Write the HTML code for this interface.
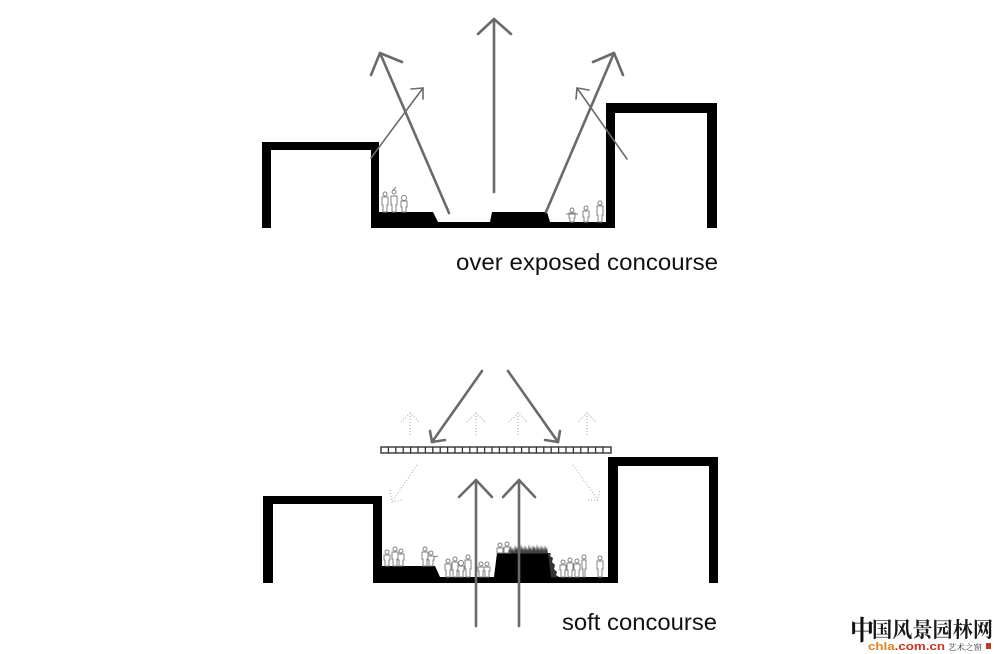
<!DOCTYPE html>
<html><head><meta charset="utf-8">
<style>
html,body{margin:0;padding:0;background:#fff;}
svg{display:block;}
</style></head>
<body>
<svg width="1000" height="654" viewBox="0 0 1000 654" xmlns="http://www.w3.org/2000/svg">
<rect width="1000" height="654" fill="#fff"/>

<!-- ===== TOP DIAGRAM ===== -->
<path d="M262,228 V142 H379 V212 H433 L438,222 H490 L492,212 H547 L550,222 H606 V103 H717 V228 H707 V113 H615 V228 H371 V150 H271 V228 Z" fill="#000"/>

<!-- people top -->
<g fill="none" stroke="#808080" stroke-width="1">
  <circle cx="385" cy="194" r="2"/><path d="M382,197 h6 v8 h-1 v7 h-4 v-7 h-1 z"/>
  <circle cx="394" cy="192" r="2"/><path d="M391,196 h6 v9 h-1 v7 h-4 v-7 h-1 z M393,190 l3,-3"/>
  <circle cx="404" cy="198" r="2.5"/><path d="M401,201 h6 v6 h-1 v5 h-4 v-5 h-1 z"/>
  <circle cx="572" cy="210" r="2"/><path d="M569,213 h6 v5 h-1 v4 h-4 v-4 h-1 z M566,214 h12"/>
  <circle cx="586" cy="208" r="2"/><path d="M583,211 h6 v6 h-1 v5 h-4 v-5 h-1 z"/>
  <circle cx="600" cy="203" r="2"/><path d="M597,206 h6 v9 h-1 v7 h-4 v-7 h-1 z"/>
</g>

<!-- arrows top -->
<g stroke="#6a6a6a" fill="none" stroke-linecap="round" stroke-linejoin="round">
  <g stroke-width="2.6">
    <line x1="494" y1="192" x2="494" y2="19"/>
    <polyline points="478,34 494,19 511,34"/>
    <line x1="449" y1="213" x2="380" y2="53"/>
    <polyline points="371,75 380,53 402,62"/>
    <line x1="546" y1="212" x2="614" y2="53"/>
    <polyline points="593,62 614,53 623,75"/>
  </g>
  <g stroke-width="1.6">
    <line x1="371" y1="158" x2="423" y2="88"/>
    <polyline points="411,89 423,88 423,99"/>
    <line x1="627" y1="159" x2="577" y2="88"/>
    <polyline points="576,99 577,88 589,90"/>
  </g>
</g>

<text x="456" y="270" font-family="Liberation Sans, sans-serif" font-size="23" fill="#111" textLength="262" lengthAdjust="spacingAndGlyphs">over exposed concourse</text>

<!-- ===== BOTTOM DIAGRAM ===== -->
<path d="M263,583 V496 H382 V566 H435 L440,577 H494 L497,553 H548 L552,577 H608 V457 H718 V583 H709 V466 H618 V583 H373 V504 H273 V583 Z" fill="#000"/>

<!-- grass on mound -->
<path d="M508,553.5 L509,548 L510,552 L511,546 L512,551 L513,547 L514,552 L515,545 L516,550 L517,546 L518,551 L519,547 L520,552 L521,544 L522,550 L523,546 L524,551 L525,545 L526,550 L527,547 L528,551 L529,544 L530,550 L531,546 L532,551 L533,545 L534,549 L535,546 L536,551 L537,544 L538,550 L539,546 L540,551 L541,545 L542,550 L543,546 L544,551 L545,545 L546,550 L547,547 L548,553.5 Z" fill="#444"/>
<path d="M548,553 L551,553 L550,556 L553,558 L552,562 L555,565 L554,569 L557,572 L556,575 L560,577.5 L551,577.5 Z" fill="#333"/>

<!-- people bottom -->
<g fill="none" stroke="#808080" stroke-width="1">
  <circle cx="387" cy="552" r="2"/><path d="M384,555 h6 v5 h-1 v6 h-4 v-6 h-1 z"/>
  <circle cx="395" cy="549" r="2"/><path d="M392,552 h6 v7 h-1 v7 h-4 v-7 h-1 z"/>
  <circle cx="401" cy="551" r="2"/><path d="M398,554 h6 v6 h-1 v6 h-4 v-6 h-1 z"/>
  <circle cx="425" cy="549" r="2"/><path d="M422,552 h6 v7 h-1 v7 h-4 v-7 h-1 z"/>
  <circle cx="431" cy="553" r="2"/><path d="M428,556 h6 v4 h-1 v6 h-4 v-6 h-1 z M434,557 l4,-1"/>
  <circle cx="448" cy="561" r="2"/><path d="M445,564 h6 v6 h-1 v7 h-4 v-7 h-1 z"/>
  <circle cx="455" cy="559" r="2"/><path d="M452,562 h6 v8 h-1 v7 h-4 v-7 h-1 z"/>
  <circle cx="461" cy="563" r="2.5"/><path d="M458,566 h6 v5 h-1 v6 h-4 v-6 h-1 z"/>
  <circle cx="468" cy="557" r="2"/><path d="M465,560 h6 v9 h-1 v8 h-4 v-8 h-1 z"/>
  <circle cx="481" cy="564" r="2"/><path d="M478,567 h6 v4 h-1 v6 h-4 v-6 h-1 z"/>
  <circle cx="487" cy="564" r="2"/><path d="M484,567 h6 v4 h-1 v6 h-4 v-6 h-1 z"/>
  <circle cx="500" cy="545" r="2"/><path d="M497,548 h6 v5 h-6 z"/>
  <circle cx="507" cy="544" r="2"/><path d="M504,547 h6 v6 h-6 z"/>
  <circle cx="563" cy="562" r="2"/><path d="M560,565 h6 v5 h-1 v7 h-4 v-7 h-1 z"/>
  <circle cx="570" cy="560" r="2"/><path d="M567,563 h6 v7 h-1 v7 h-4 v-7 h-1 z"/>
  <circle cx="577" cy="561" r="2"/><path d="M574,564 h6 v6 h-1 v7 h-4 v-7 h-1 z"/>
  <circle cx="584" cy="557" r="2"/><path d="M582,560 h4 v9 h-1 v8 h-2 v-8 h-1 z"/>
  <circle cx="600" cy="558" r="2"/><path d="M597,561 h6 v8 h-1 v8 h-4 v-8 h-1 z"/>
</g>

<!-- canopy -->
<rect x="381" y="447" width="230" height="6" fill="#fff" stroke="#333" stroke-width="1.4"/>
<g stroke="#333" stroke-width="1.3">
  <path d="M388.4,447 v6 M395.8,447 v6 M403.2,447 v6 M410.6,447 v6 M418,447 v6 M425.4,447 v6 M432.8,447 v6 M440.2,447 v6 M447.6,447 v6 M455,447 v6 M462.4,447 v6 M469.8,447 v6 M477.2,447 v6 M484.6,447 v6 M492,447 v6 M499.4,447 v6 M506.8,447 v6 M514.2,447 v6 M521.6,447 v6 M529,447 v6 M536.4,447 v6 M543.8,447 v6 M551.2,447 v6 M558.6,447 v6 M566,447 v6 M573.4,447 v6 M580.8,447 v6 M588.2,447 v6 M595.6,447 v6 M603,447 v6"/>
</g>

<!-- converging arrows -->
<g stroke="#6a6a6a" fill="none" stroke-width="2.6" stroke-linecap="round" stroke-linejoin="round">
  <line x1="482" y1="371" x2="432" y2="442"/>
  <polyline points="430,431 432,442 445,440"/>
  <line x1="508" y1="371" x2="558" y2="442"/>
  <polyline points="560,431 558,442 545,440"/>
  <line x1="476" y1="626" x2="476" y2="480"/>
  <polyline points="459,497 476,480 492,497"/>
  <line x1="519" y1="626" x2="519" y2="480"/>
  <polyline points="503,497 519,480 535,497"/>
</g>

<!-- dotted faint arrows -->
<g stroke="#b4b4b4" fill="none" stroke-width="1.2" stroke-dasharray="1 2">
  <line x1="410" y1="435" x2="410" y2="413"/><polyline points="401,422 410,413 419,422"/>
  <line x1="476" y1="435" x2="476" y2="413"/><polyline points="467,422 476,413 485,422"/>
  <line x1="518" y1="435" x2="518" y2="413"/><polyline points="509,422 518,413 527,422"/>
  <line x1="587" y1="435" x2="587" y2="413"/><polyline points="578,422 587,413 596,422"/>
  <line x1="417" y1="465" x2="392" y2="502"/><polyline points="390,490 392,502 403,500"/>
  <line x1="573" y1="465" x2="598" y2="500"/><polyline points="588,500 598,500 600,489"/>
</g>

<text x="562" y="630" font-family="Liberation Sans, sans-serif" font-size="23" fill="#111" textLength="155" lengthAdjust="spacingAndGlyphs">soft concourse</text>

<!-- watermark -->
<text x="850" y="640" font-family="Liberation Serif, 'Noto Serif CJK SC', serif" font-weight="bold" font-size="27" fill="#111" textLength="24" lengthAdjust="spacingAndGlyphs">中</text>
<text x="872" y="637" font-family="Liberation Serif, 'Noto Serif CJK SC', serif" font-weight="bold" font-size="21" fill="#1a1a1a" textLength="121" lengthAdjust="spacingAndGlyphs">国风景园林网</text>
<text x="868" y="650" font-family="Liberation Sans, sans-serif" font-weight="bold" font-size="11" textLength="77" lengthAdjust="spacingAndGlyphs"><tspan fill="#e8801e">chla</tspan><tspan fill="#d0301c">.com.cn</tspan></text>
<text x="948" y="650" font-family="Liberation Serif, 'Noto Serif CJK SC', serif" font-size="8" fill="#333" textLength="34" lengthAdjust="spacingAndGlyphs">艺术之窗</text>
<rect x="986" y="643" width="5" height="6" fill="#c0392b"/>
</svg>
</body></html>
